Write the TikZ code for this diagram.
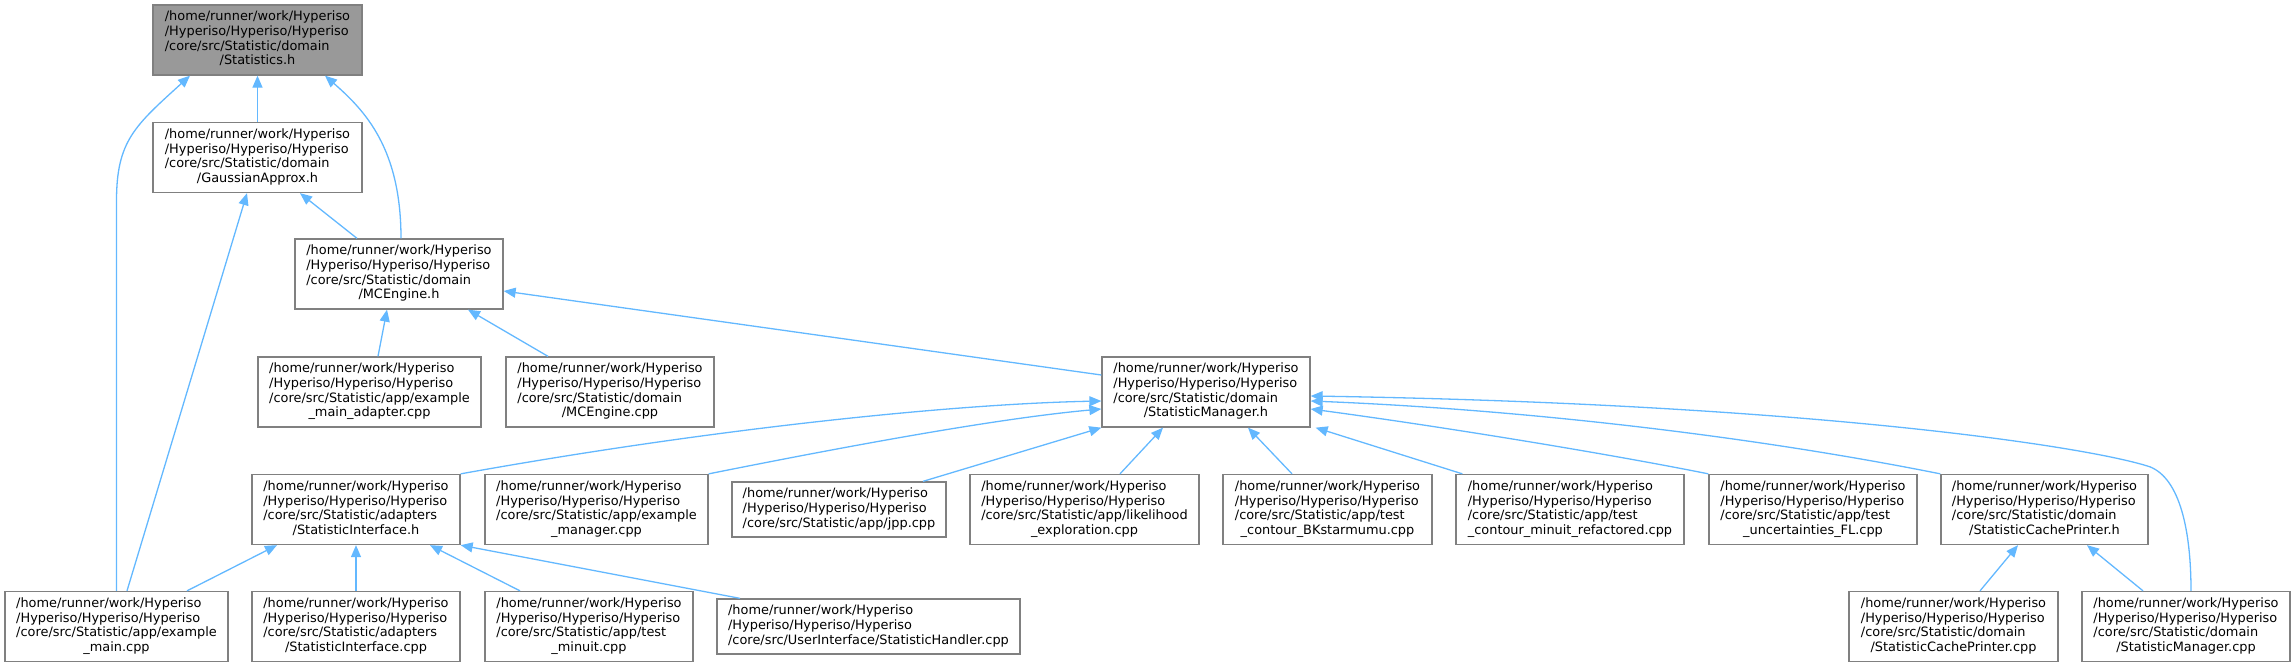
\documentclass[tikz,border=0pt]{standalone}
\usepackage{fontspec}
\setmainfont{DejaVu Sans}
\usepackage{tikz}
\usetikzlibrary{arrows.meta}

\definecolor{edgeblue}{HTML}{63B8FF}
\definecolor{boxgray}{HTML}{808080}
\definecolor{rootgray}{HTML}{999999}

\newcommand{\hyp}[2]{\begin{tabular}{@{}l@{}}/home/runner/work/Hyperiso\\/Hyperiso/Hyperiso/Hyperiso\\#1\\\multicolumn{1}{@{}c@{}}{#2}\end{tabular}}
\newcommand{\hypshort}[1]{\begin{tabular}{@{}l@{}}/home/runner/work/Hyperiso\\/Hyperiso/Hyperiso/Hyperiso\\#1\end{tabular}}

\begin{document}
\begin{tikzpicture} [x=1pt, y=-1pt, every node/.style={draw=boxgray,fill=white,line width=1.3pt,inner sep=0pt,minimum height=70pt,font=\fontsize{12.9}{14.7}\selectfont},
  inc/.style={draw=edgeblue,line width=1.3pt,-{Triangle[length=12pt,width=10pt]}}]
\useasboundingbox (0,0) rectangle (2295,667);

\node[fill=rootgray,minimum width=209pt] (stat) at (257.5,40) {\hyp{/core/src/Statistic/domain}{/Statistics.h}};
\node[minimum width=209pt] (gauss) at (257.5,157.5) {\hyp{/core/src/Statistic/domain}{/GaussianApprox.h}};
\node[minimum width=208pt] (mce) at (399,274) {\hyp{/core/src/Statistic/domain}{/MCEngine.h}};

\node[minimum width=223pt] (adapt) at (369.5,392) {\hyp{/core/src/Statistic/app/example}{\_main\_adapter.cpp}};
\node[minimum width=208pt] (mcecpp) at (610,392) {\hyp{/core/src/Statistic/domain}{/MCEngine.cpp}};
\node[minimum width=208pt] (smh) at (1206,392) {\hyp{/core/src/Statistic/domain}{/StatisticManager.h}};

\node[minimum width=208pt] (sih) at (356,509.5) {\hyp{/core/src/Statistic/adapters}{/StatisticInterface.h}};
\node[minimum width=223pt] (exmgr) at (596.5,509.5) {\hyp{/core/src/Statistic/app/example}{\_manager.cpp}};
\node[minimum width=214pt,minimum height=55pt] (jpp) at (839,509.5) {\hypshort{/core/src/Statistic/app/jpp.cpp}};
\node[minimum width=229pt] (likeli) at (1084.5,509.5) {\hyp{/core/src/Statistic/app/likelihood}{\_exploration.cpp}};
\node[minimum width=209pt] (bkstar) at (1327.5,509.5) {\hyp{/core/src/Statistic/app/test}{\_contour\_BKstarmumu.cpp}};
\node[minimum width=228pt] (minref) at (1570,509.5) {\hyp{/core/src/Statistic/app/test}{\_contour\_minuit\_refactored.cpp}};
\node[minimum width=208pt] (uncfl) at (1813,509.5) {\hyp{/core/src/Statistic/app/test}{\_uncertainties\_FL.cpp}};
\node[minimum width=207pt] (scph) at (2044.5,509.5) {\hyp{/core/src/Statistic/domain}{/StatisticCachePrinter.h}};

\node[minimum width=223pt] (exmain) at (116.5,626.5) {\hyp{/core/src/Statistic/app/example}{\_main.cpp}};
\node[minimum width=208pt] (sicpp) at (356,626.5) {\hyp{/core/src/Statistic/adapters}{/StatisticInterface.cpp}};
\node[minimum width=208pt] (minuit) at (589,626.5) {\hyp{/core/src/Statistic/app/test}{\_minuit.cpp}};
\node[minimum width=303pt,minimum height=55pt] (handler) at (868.5,626.5) {\hypshort{/core/src/UserInterface/StatisticHandler.cpp}};
\node[minimum width=209pt] (scpcpp) at (1953.5,626.5) {\hyp{/core/src/Statistic/domain}{/StatisticCachePrinter.cpp}};
\node[minimum width=208pt] (smcpp) at (2186,626.5) {\hyp{/core/src/Statistic/domain}{/StatisticManager.cpp}};

% Statistics.h
\draw[inc] (exmain.north) -- ++(0,-390) .. controls +(0,-60) and +(-55,50) .. ([xshift=-67.5pt]stat.south);
\draw[inc] (gauss.north) -- (stat.south);
\draw[inc] ([xshift=2pt]mce.north) .. controls +(0,-90) and +(40,35) .. ([xshift=67.5pt]stat.south);

\draw[inc] ([xshift=10.5pt]exmain.north) -- ([xshift=-10.5pt]gauss.south);
\draw[inc] ([xshift=-42pt]mce.north) -- ([xshift=42.5pt]gauss.south);

\draw[inc] ([xshift=8.5pt]adapt.north) -- ([xshift=-12pt]mce.south);
\draw[inc] ([xshift=-62pt]mcecpp.north) -- ([xshift=69pt]mce.south);
\draw[inc] ([yshift=17pt]smh.west) -- ([yshift=-17pt]mce.east);

% StatisticManager.h
\draw[inc] (sih.north east) .. controls +(250,-45) and +(-150,3) .. ([yshift=-9pt]smh.west);
\draw[inc] (exmgr.north east) .. controls +(150,-30) and +(-100,9) .. ([yshift=-17pt]smh.west);
\draw[inc] ([xshift=84pt]jpp.north) -- (smh.south west);
\draw[inc] ([xshift=35.5pt]likeli.north) -- ([xshift=-43pt]smh.south);
\draw[inc] ([xshift=-35.5pt]bkstar.north) -- ([xshift=42pt]smh.south);
\draw[inc] ([xshift=7pt]minref.north west) -- ([xshift=5pt]smh.south east);
\draw[inc] (uncfl.north west) .. controls +(-110,-22) and +(120,16) .. ([yshift=-17pt]smh.east);
\draw[inc] (scph.north west) .. controls +(-200,-40) and +(200,8) .. ([yshift=-9pt]smh.east);
\draw[inc] ([xshift=5pt]smcpp.north) .. controls +(0,-60) and +(30,12) .. ++(-41,-124) .. controls +(-60,-20) and +(500,8) .. ([yshift=-4pt]smh.east);

% StatisticInterface.h
\draw[inc] ([xshift=70.5pt]exmain.north) -- ([xshift=-79pt]sih.south);
\draw[inc] (sicpp.north) -- (sih.south);
\draw[inc] ([xshift=-69pt]minuit.north) -- ([xshift=74pt]sih.south);
\draw[inc] ([xshift=-128.5pt]handler.north) -- (sih.south east);

\draw[inc] ([xshift=26.5pt]scpcpp.north) -- ([xshift=-26.5pt]scph.south);
\draw[inc] ([xshift=-43pt]smcpp.north) -- ([xshift=42.5pt]scph.south);

\end{tikzpicture}
\end{document}
